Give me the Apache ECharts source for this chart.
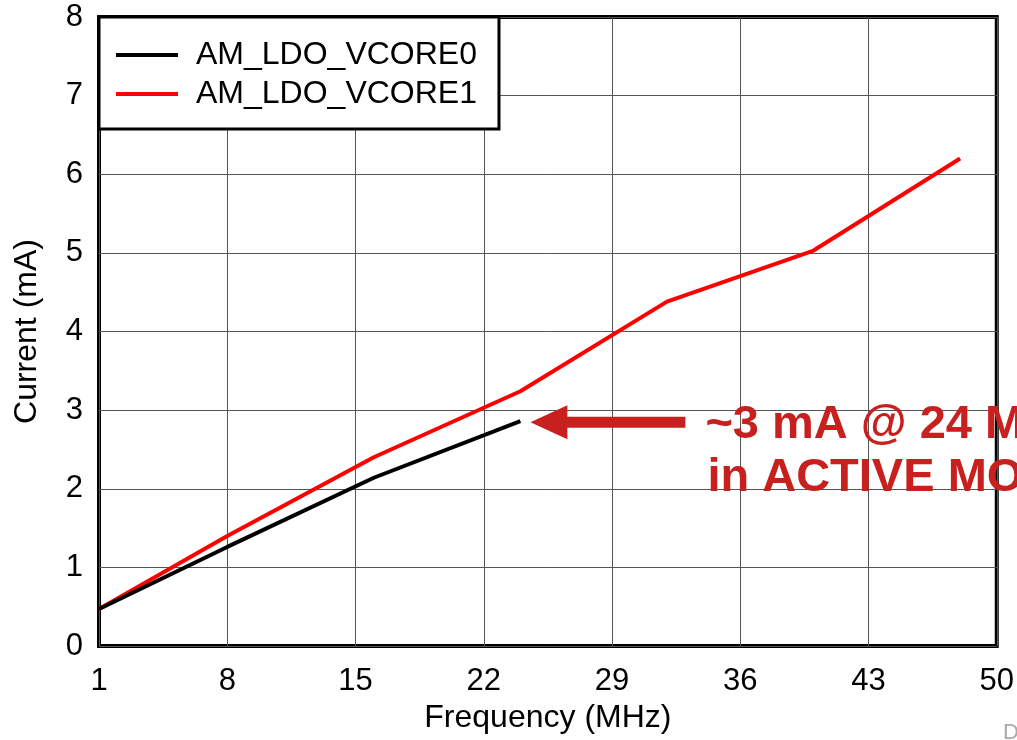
<!DOCTYPE html>
<html>
<head>
<meta charset="utf-8">
<script src="https://cdn.jsdelivr.net/npm/echarts@6/dist/echarts.min.js"></script>
<style>
  html, body { margin: 0; padding: 0; background: #fff; }
  #main { width: 1017px; height: 740px; }
</style>
</head>
<body>
<div id="main"></div>
<script>
// data
var freq0 = [1, 8, 16, 24];
var vcore0 = [0.47, 1.26, 2.14, 2.86];
var freq1 = [1, 8, 16, 24, 32, 40, 48];
var vcore1 = [0.47, 1.40, 2.40, 3.24, 4.38, 5.03, 6.20];
var xTicks = { min: 1, max: 50, step: 7 };
var yTicks = { min: 0, max: 8, step: 1 };
var noteLines = ['~3 mA @ 24 MHz', 'in ACTIVE MODE'];

var FONT = '"Liberation Sans", Arial, sans-serif';
var RED_NOTE = '#c8201e';

function pairs(xs, ys) {
  var out = [];
  for (var i = 0; i < xs.length; i++) out.push([xs[i], ys[i]]);
  return out;
}

var chart = echarts.init(document.getElementById('main'), null, { renderer: 'canvas' });

var option = {
  animation: false,
  textStyle: { fontFamily: FONT },
  grid: {
    left: 99, right: 20, top: 17, bottom: 94,
    show: true, borderColor: '#000', borderWidth: 4, backgroundColor: '#fff'
  },
  legend: {
    orient: 'vertical',
    left: 99, top: 17,
    padding: [22, 22, 19, 17],
    itemWidth: 62, itemHeight: 4, itemGap: 7,
    icon: 'rect',
    backgroundColor: '#fff',
    borderColor: '#000', borderWidth: 3,
    textStyle: { fontSize: 32, lineHeight: 32, color: '#000', fontFamily: FONT, padding: [0, 0, 0, 13] }
  },
  xAxis: {
    type: 'value',
    min: xTicks.min, max: xTicks.max, interval: xTicks.step,
    name: 'Frequency (MHz)', nameLocation: 'middle', nameGap: 54,
    nameTextStyle: { fontSize: 32, color: '#000' },
    axisLine: { show: false },
    axisTick: { show: false },
    axisLabel: { fontSize: 31, color: '#000', margin: 20 },
    splitLine: { lineStyle: { color: '#555', width: 1 } }
  },
  yAxis: {
    type: 'value',
    min: yTicks.min, max: yTicks.max, interval: yTicks.step,
    name: 'Current (mA)', nameLocation: 'middle', nameGap: 56,
    nameTextStyle: { fontSize: 32, color: '#000' },
    axisLine: { show: false },
    axisTick: { show: false },
    axisLabel: { fontSize: 31, color: '#000', margin: 16 },
    splitLine: { lineStyle: { color: '#555', width: 1 } }
  },
  series: [
    {
      name: 'AM_LDO_VCORE0', type: 'line', data: pairs(freq0, vcore0),
      showSymbol: false, symbol: 'none',
      itemStyle: { color: '#000' },
      lineStyle: { color: '#000', width: 4 }, z: 3
    },
    {
      name: 'AM_LDO_VCORE1', type: 'line', data: pairs(freq1, vcore1),
      showSymbol: false, symbol: 'none',
      itemStyle: { color: '#f00' },
      lineStyle: { color: '#f00', width: 4 }, z: 2
    }
  ]
};
chart.setOption(option);

// arrow + note pointing at the end of VCORE0
var end = chart.convertToPixel({ gridIndex: 0 }, [freq0[freq0.length - 1], vcore0[vcore0.length - 1]]);
var tipX = end[0] + 10, tipY = end[1] + 1;
chart.setOption({
  graphic: [
    {
      type: 'polygon', z: 20,
      shape: { points: [[tipX, tipY], [tipX + 37, tipY - 17], [tipX + 37, tipY + 17]] },
      style: { fill: RED_NOTE }
    },
    {
      type: 'rect', z: 20,
      shape: { x: tipX + 36, y: tipY - 5.5, width: 119, height: 11 },
      style: { fill: RED_NOTE }
    },
    {
      type: 'text', z: 20, x: tipX + 175, y: tipY + 3,
      style: { text: noteLines[0], fill: RED_NOTE, font: 'bold 47px ' + FONT, verticalAlign: 'middle' }
    },
    {
      type: 'text', z: 20, x: tipX + 177, y: tipY + 56,
      style: { text: noteLines[1], fill: RED_NOTE, font: 'bold 47px ' + FONT, verticalAlign: 'middle' }
    },
    {
      type: 'text', z: 20, x: 1003, y: 733,
      style: { text: 'D', fill: '#aaa', font: '22px ' + FONT, verticalAlign: 'middle' }
    }
  ]
});
</script>
</body>
</html>
